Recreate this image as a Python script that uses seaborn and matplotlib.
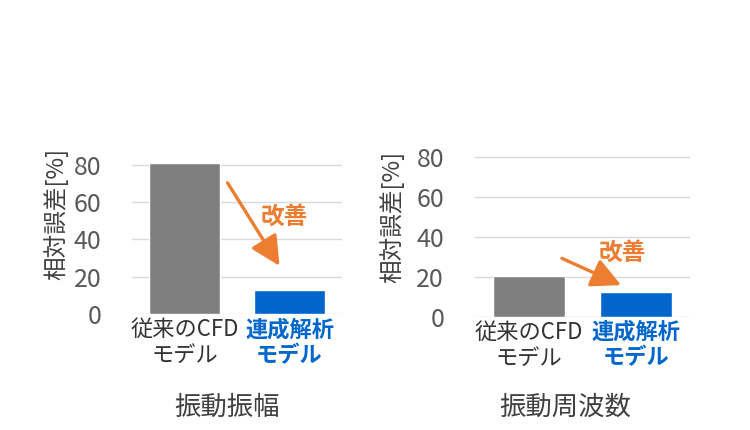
import matplotlib
matplotlib.use("Agg")
import matplotlib.pyplot as plt
import seaborn as sns
import pandas as pd

sns.set_theme(style="white")
plt.rcParams['font.family'] = ['Noto Sans CJK JP', 'DejaVu Sans']

categories = ["従来のCFD\nモデル", "連成解析\nモデル"]
amplitude_err = [81, 13]
frequency_err = [20.3, 12.5]
titles = ["振動振幅", "振動周波数"]
ylabel = "相対誤差[%]"
yticks = [0, 20, 40, 60, 80]
note = "改善"
colors = ["#7f7f7f", "#0066cc"]
label_colors = ["#333333", "#0066cc"]

fig = plt.figure(figsize=(7.5, 4.3), dpi=100)
axes = [fig.add_axes([0.176, 0.270, 0.280, 0.355]),
        fig.add_axes([0.633, 0.2635, 0.287, 0.381])]

datasets = [amplitude_err, frequency_err]
arrows = [((0.41, 70.4), (0.905, 25.8), (0.95, 52)),
          ((0.31, 29.2), (0.86, 15.8), (0.87, 31.8))]
title_x = [227 / 750, 565 / 750]
ylabel_pos = [(-0.305, 0.656), (-0.326, 0.61)]

for ax, vals, arr, tx, title, yp in zip(axes, datasets, arrows, title_x, titles, ylabel_pos):
    df = pd.DataFrame({"cat": categories, "val": vals})
    sns.barplot(data=df, x="cat", y="val", hue="cat", palette=colors,
                width=0.67, saturation=1, legend=False, ax=ax, zorder=3)
    ax.set_ylim(0, 82)
    ax.set_xlim(-0.5, 1.5)
    ax.set_yticks(yticks)
    ax.grid(axis="y", color="#d9d9d9", linewidth=1, zorder=0)
    for s in ax.spines.values():
        s.set_visible(False)
    ax.tick_params(axis="y", labelsize=18, labelcolor="#595959", length=0, pad=22)
    ax.tick_params(axis="x", labelsize=16, length=0, pad=3)
    for lbl, c in zip(ax.get_xticklabels(), label_colors):
        lbl.set_color(c)
        lbl.set_linespacing(1.15)
        if c != "#333333":
            lbl.set_fontweight("bold")
    ax.set_xlabel("")
    ax.set_ylabel(ylabel, fontsize=17, color="#404040")
    ax.yaxis.set_label_coords(yp[0], yp[1])
    ax.annotate("", xy=arr[1], xytext=arr[0],
                arrowprops=dict(arrowstyle="-|>,head_length=1.0,head_width=0.5",
                                color="#ed7d31", lw=2.4, shrinkA=0, shrinkB=0,
                                mutation_scale=18),
                zorder=5)
    ax.text(arr[2][0], arr[2][1], note, color="#ed7d31", fontsize=17,
            fontweight="bold", ha="center", va="center", zorder=5)
    fig.text(tx, 1 - 407 / 430, title, fontsize=19, color="#404040",
             ha="center", va="center")

fig.savefig("out.png", dpi=100)
